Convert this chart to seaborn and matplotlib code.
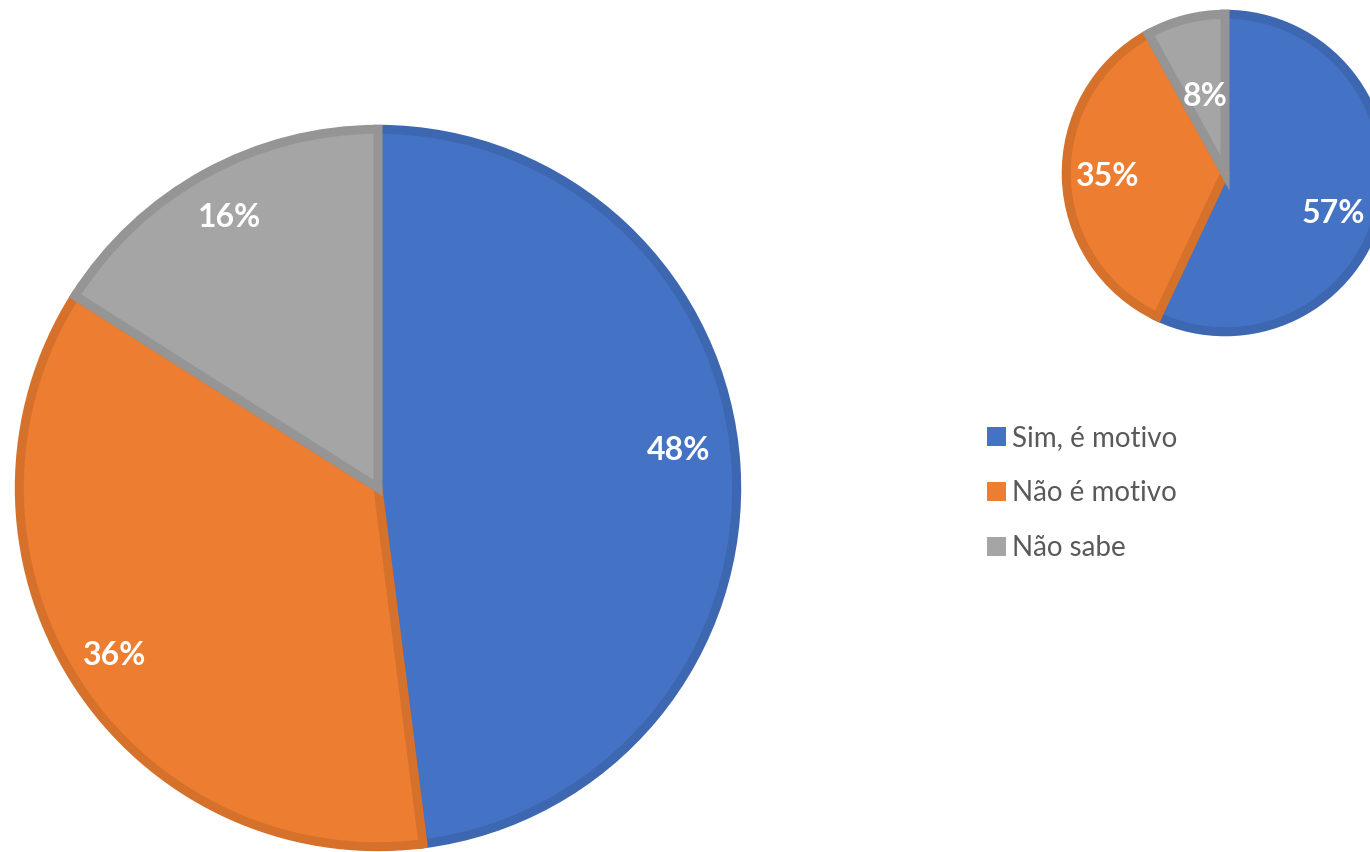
import matplotlib.pyplot as plt
import seaborn as sns
from matplotlib.patches import Patch

categories = ["Sim, é motivo", "Não é motivo", "Não sabe"]
values_big = [48, 36, 16]
values_small = [57, 35, 8]

sns.set_style("white")
plt.rcParams["font.family"] = ["Lato", "DejaVu Sans"]

colors = ["#4472C4", "#ED7D31", "#A5A5A5"]
edge_colors = ["#3E67B1", "#D6712C", "#959595"]

W, H = 1370, 852
fig = plt.figure(figsize=(W / 100, H / 100), dpi=100)


def draw_pie(cx, cy, r, values, dists, shifts):
    ax = fig.add_axes([(cx - r) / W, (H - cy - r) / H, 2 * r / W, 2 * r / H])
    wedges, _, autotexts = ax.pie(
        values,
        colors=colors,
        startangle=90,
        counterclock=False,
        radius=0.98,
        autopct="%d%%",
        pctdistance=0.85,
        wedgeprops=dict(linewidth=6.5, clip_on=False),
        textprops=dict(color="white", fontsize=23, fontweight="bold"),
    )
    for w, ec in zip(wedges, edge_colors):
        w.set_edgecolor(ec)
        w.set_joinstyle("miter")
    for t, d, s in zip(autotexts, dists, shifts):
        x, y = t.get_position()
        t.set_position((x / 0.85 * d, y / 0.85 * d + s))
    ax.set_xlim(-1, 1)
    ax.set_ylim(-1, 1)
    ax.axis("off")
    return ax


draw_pie(378, 488, 366, values_big, [0.84, 0.87, 0.86], [0.05, 0, 0])
draw_pie(1225, 173, 162, values_small, [0.7, 0.74, 0.5], [-0.1, 0, 0])

handles = [Patch(facecolor=c, edgecolor="none") for c in colors]
fig.legend(
    handles,
    categories,
    loc="upper left",
    bbox_to_anchor=(962 / W, 1 - 400 / H),
    frameon=False,
    fontsize=20,
    labelcolor="#595959",
    handlelength=0.7,
    handleheight=0.7,
    handletextpad=0.2,
    labelspacing=1.05,
)

fig.savefig("out.png", dpi=100)
